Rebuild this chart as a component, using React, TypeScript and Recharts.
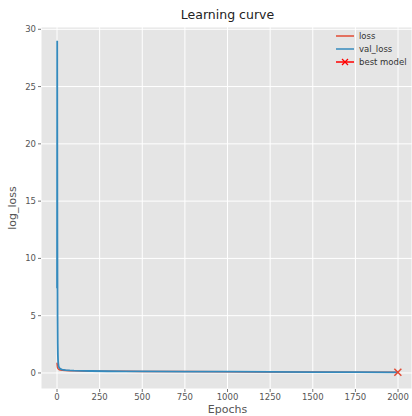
import React from 'react';
import { ComposedChart, Line, Scatter, XAxis, YAxis, CartesianGrid } from 'recharts';

const epochs = [0, 1, 2, 3, 4, 5, 6, 8, 10, 15, 20, 30, 50, 75, 100, 150, 200, 300, 400, 500, 750, 1000, 1250, 1500, 1750, 1999];
const valLoss = [7.4, 29.0, 12.0, 5.0, 2.6, 1.6, 1.1, 0.7, 0.55, 0.42, 0.35, 0.3, 0.25, 0.22, 0.2, 0.18, 0.17, 0.15, 0.14, 0.13, 0.12, 0.11, 0.09, 0.08, 0.07, 0.06];
const loss = [0.9, 0.7, 0.55, 0.48, 0.44, 0.4, 0.38, 0.34, 0.32, 0.28, 0.26, 0.24, 0.22, 0.2, 0.19, 0.17, 0.16, 0.15, 0.14, 0.13, 0.12, 0.1, 0.09, 0.08, 0.07, 0.06];
const bestEpoch = [1999];
const bestLoss = [0.06];

const xTicks = [0, 250, 500, 750, 1000, 1250, 1500, 1750, 2000];
const yTicks = [0, 5, 10, 15, 20, 25, 30];

const LOSS_COLOR = '#E24A33';
const VAL_COLOR = '#348ABD';
const FONT = '"DejaVu Sans", sans-serif';

const curveData = epochs.map((e, i) => ({ epoch: e, loss: loss[i], val_loss: valLoss[i] }));
const bestData = bestEpoch.map((e, i) => ({ epoch: e, best: bestLoss[i] }));

const XMark = (props: any) => {
  const { cx, cy } = props;
  const s = 3.5;
  return (
    <g stroke={LOSS_COLOR} strokeWidth={1.5}>
      <line x1={cx - s} y1={cy - s} x2={cx + s} y2={cy + s} />
      <line x1={cx - s} y1={cy + s} x2={cx + s} y2={cy - s} />
    </g>
  );
};

const LegendRow: React.FC<{ label: string; color: string; marker?: boolean }> = ({ label, color, marker }) => (
  <div style={{ display: 'flex', alignItems: 'center', height: 13, whiteSpace: 'nowrap' }}>
    <svg width={18} height={10} style={{ marginRight: 5, flexShrink: 0 }}>
      <line x1={0} y1={5} x2={18} y2={5} stroke={color} strokeWidth={1.5} />
      {marker && (
        <g stroke={color} strokeWidth={1.2}>
          <line x1={6} y1={2} x2={12} y2={8} />
          <line x1={6} y1={8} x2={12} y2={2} />
        </g>
      )}
    </svg>
    <span>{label}</span>
  </div>
);

export default function App() {
  return (
    <div style={{ position: 'absolute', left: 0, top: 0, width: 412, height: 416, background: '#fff', overflow: 'hidden', fontFamily: FONT }}>
      <div style={{ position: 'absolute', left: 0, width: 455, top: 7, textAlign: 'center', fontSize: 12.5, color: '#222' }}>
        Learning curve
      </div>
      <div
        style={{
          position: 'absolute',
          left: 12,
          top: 208,
          transform: 'translate(-50%, -50%) rotate(-90deg)',
          fontSize: 11,
          color: '#555',
          whiteSpace: 'nowrap',
        }}
      >
        log_loss
      </div>
      <div style={{ position: 'absolute', left: 0, width: 455, top: 403, textAlign: 'center', fontSize: 11, color: '#555' }}>
        Epochs
      </div>
      <ComposedChart
        width={412}
        height={416}
        data={curveData}
        margin={{ top: 27, right: 0, bottom: 0, left: 0 }}
        style={{ position: 'absolute', left: 0, top: 0 }}
      >
        <CartesianGrid fill="#E5E5E5" stroke="#FFFFFF" strokeWidth={1} />
        <XAxis
          dataKey="epoch"
          type="number"
          domain={[-94, 2082]}
          allowDataOverflow
          ticks={xTicks}
          height={27}
          axisLine={false}
          tickLine={{ stroke: '#777' }}
          tickSize={3}
          tick={{ fontSize: 8.5, fill: '#555', fontFamily: FONT }}
          interval={0}
        />
        <YAxis
          type="number"
          domain={[-1.4, 30.2]}
          allowDataOverflow
          ticks={yTicks}
          width={41}
          axisLine={false}
          tickLine={{ stroke: '#777' }}
          tickSize={3}
          tick={{ fontSize: 8.5, fill: '#555', fontFamily: FONT }}
          interval={0}
        />
        <Line dataKey="loss" stroke={LOSS_COLOR} strokeWidth={1.5} dot={false} isAnimationActive={false} type="linear" />
        <Line dataKey="val_loss" stroke={VAL_COLOR} strokeWidth={1.8} dot={false} isAnimationActive={false} type="linear" />
        <Scatter data={bestData} dataKey="best" shape={<XMark />} isAnimationActive={false} />
      </ComposedChart>
      <div style={{ position: 'absolute', left: 336, top: 29, fontSize: 8.5, color: '#333' }}>
        <LegendRow label="loss" color={LOSS_COLOR} />
        <LegendRow label="val_loss" color={VAL_COLOR} />
        <LegendRow label="best model" color="#FF0000" marker />
      </div>
    </div>
  );
}
